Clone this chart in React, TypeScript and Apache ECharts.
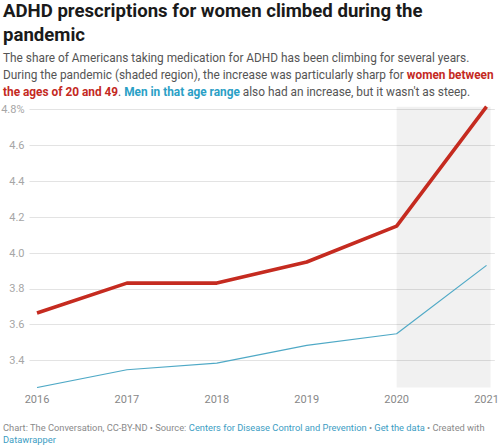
import React, { useEffect, useRef } from "react";
import * as echarts from "echarts";

const years = [2016, 2017, 2018, 2019, 2020, 2021];
const women = [3.665, 3.832, 3.832, 3.95, 4.15, 4.817];
const men = [3.249, 3.348, 3.385, 3.484, 3.549, 3.931];
const yTicks = [3.4, 3.6, 3.8, 4.0, 4.2, 4.4, 4.6, 4.8];
const pandemicYears = [2020, 2021];

const titleLines = ["ADHD prescriptions for women climbed during the", "pandemic"];
const subtitleLines = [
  "{g|The share of Americans taking medication for ADHD has been climbing for several years.}",
  "{g|During the pandemic (shaded region), the increase was particularly sharp for }{r|women between}",
  "{r|the ages of 20 and 49}{g|. }{b|Men in that age range}{g| also had an increase, but it wasn't as steep.}",
];
const footerLines = [
  "{g|Chart: The Conversation, CC-BY-ND • Source: }{b|Centers for Disease Control and Prevention}{g| • }{b|Get the data}{g| • Created with}",
  "{b|Datawrapper}",
];

const RED = "#c52b20";
const BLUE = "#4fa9c6";
const FONT = "Roboto, sans-serif";

export default function App() {
  const ref = useRef<HTMLDivElement>(null);
  useEffect(() => {
    if (!ref.current) return;
    const chart = echarts.init(ref.current, undefined, { renderer: "svg" });
    const toPairs = (vals: number[]) => years.map((y, i) => [y, vals[i]]);
    const yMin = Math.min(...men);
    const yMax = Math.max(...women);

    const SUB = 11.85;
    const subRich = {
      g: { fontFamily: FONT, fontSize: SUB, fill: "#555555" },
      r: { fontFamily: FONT, fontSize: SUB, fill: "#c42a1f", fontWeight: "bold" },
      b: { fontFamily: FONT, fontSize: SUB, fill: "#2aa0c6", fontWeight: "bold" },
    };
    const FT = 9.3;
    const footRich = {
      g: { fontFamily: FONT, fontSize: FT, fill: "#8a8a8a" },
      b: { fontFamily: FONT, fontSize: FT, fill: "#3c9dc3" },
    };

    chart.setOption({
      animation: false,
      backgroundColor: "#ffffff",
      grid: {
        left: 29.5,
        right: 5.2,
        top: 106.7,
        bottom: 57.5,
        containLabel: false,
        outerBoundsMode: "none",
      },
      xAxis: {
        type: "value",
        min: 2015.9165,
        max: 2021.092,
        axisLine: { show: false },
        axisTick: { show: false },
        splitLine: { show: false },
        axisLabel: {
          customValues: years,
          formatter: (v: number) => String(v),
          color: "#888888",
          fontFamily: FONT,
          fontSize: 11,
          margin: 6,
        },
      },
      yAxis: {
        type: "value",
        min: yMin,
        max: yMax,
        axisLine: { show: false },
        axisTick: { show: false, customValues: yTicks },
        splitLine: { show: true, lineStyle: { color: "#e3e3e3", width: 1 } },
        axisLabel: {
          customValues: yTicks,
          formatter: (v: number) => (Math.abs(v - 4.8) < 1e-6 ? v.toFixed(1) + "%" : v.toFixed(1)),
          color: "#a6a6a6",
          fontFamily: FONT,
          fontSize: 11,
          margin: 5,
        },
      },
      series: [
        {
          type: "line",
          name: "Men",
          data: toPairs(men),
          symbol: "none",
          lineStyle: { color: BLUE, width: 1.2 },
          z: 3,
          markArea: {
            silent: true,
            itemStyle: { color: "rgba(0,0,0,0.055)" },
            data: [[{ xAxis: pandemicYears[0] }, { xAxis: pandemicYears[1] + 0.045 }]],
          },
        },
        {
          type: "line",
          name: "Women",
          data: toPairs(women),
          symbol: "none",
          lineStyle: { color: RED, width: 3.6, join: "round" },
          z: 4,
        },
      ],
      graphic: [
        ...titleLines.map((t, i) => ({
          type: "text",
          left: 3,
          top: 1 + i * 24,
          style: { text: t, fontFamily: FONT, fontSize: 18.6, fontWeight: "bold", fill: "#1a1a1a" },
        })),
        ...subtitleLines.map((t, i) => ({
          type: "text",
          left: 3,
          top: 52 + i * 17,
          style: { text: t, rich: subRich },
        })),
        ...footerLines.map((t, i) => ({
          type: "text",
          left: 3,
          top: 422.5 + i * 12,
          style: { text: t, rich: footRich },
        })),
      ],
    });
    return () => chart.dispose();
  }, []);
  return <div ref={ref} style={{ position: "fixed", left: 0, top: 0, width: 500, height: 445 }} />;
}
